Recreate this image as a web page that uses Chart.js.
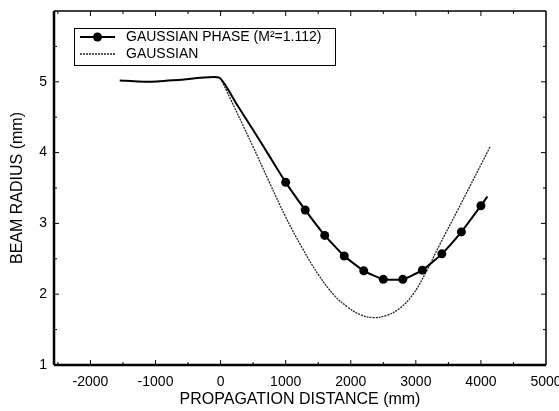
<!DOCTYPE html>
<html>
<head>
<meta charset="utf-8">
<script src="https://cdn.jsdelivr.net/npm/chart.js@4.4.0/dist/chart.umd.min.js"></script>
<style>
  html, body { margin: 0; padding: 0; background: #fff; }
  canvas { display: block; }
</style>
</head>
<body>
<canvas id="beam" width="559" height="411"></canvas>
<script>
// Gaussian phase curve (M^2 = 1.112)
const phaseX = [-1550, -1100, -600, -20, 250, 500, 750, 1000, 1300, 1600, 1900, 2200, 2500, 2800, 3100, 3400, 3700, 4000, 4100];
const phaseY = [5.02, 5.00, 5.03, 5.06, 4.68, 4.32, 3.95, 3.58, 3.19, 2.83, 2.54, 2.33, 2.21, 2.21, 2.34, 2.57, 2.88, 3.25, 3.38];
// points that carry a dot marker
const markerX = [1000, 1300, 1600, 1900, 2200, 2500, 2800, 3100, 3400, 3700, 4000];
// ideal gaussian beam
const gaussX = [0, 500, 750, 1000, 1250, 1500, 1750, 1950, 2150, 2350, 2550, 2750, 2950, 3150, 3350, 3650, 4140];
const gaussY = [5.05, 4.08, 3.58, 3.09, 2.66, 2.28, 1.98, 1.82, 1.71, 1.67, 1.70, 1.80, 1.99, 2.30, 2.67, 3.20, 4.08];
// axis ticks
const xTicks = [-2000, -1000, 0, 1000, 2000, 3000, 4000, 5000];
const yTicks = [1, 2, 3, 4, 5];

const FONT = '"Liberation Sans", Arial, sans-serif';

// box, inward ticks and the legend
const framePlugin = {
  id: 'frame',
  afterDraw(chart) {
    const { ctx, chartArea: a, scales: { x, y } } = chart;
    ctx.save();
    ctx.strokeStyle = '#000';
    const seg = (x1, y1, x2, y2) => { ctx.beginPath(); ctx.moveTo(x1, y1); ctx.lineTo(x2, y2); ctx.stroke(); };

    ctx.lineWidth = 1.5;
    seg(a.left, a.top, a.right, a.top);
    seg(a.right, a.top, a.right, a.bottom);
    ctx.lineWidth = 2.5;
    seg(a.left, a.bottom, a.right, a.bottom);
    seg(a.left, a.top, a.left, a.bottom);

    ctx.lineWidth = 1;
    for (let v = -2500; v <= 5000; v += 500) {
      const px = x.getPixelForValue(v);
      if (px <= a.left + 1 || px >= a.right - 1) continue;
      const len = v % 1000 === 0 ? 5 : 3;
      seg(px, a.bottom, px, a.bottom - len);
      seg(px, a.top, px, a.top + len);
    }
    for (let v = 1.5; v < 6; v += 0.5) {
      const py = y.getPixelForValue(v);
      const len = v % 1 === 0 ? 5 : 3;
      seg(a.left, py, a.left + len, py);
      seg(a.right, py, a.right - len, py);
    }

    // legend
    ctx.lineWidth = 1;
    ctx.strokeRect(74.5, 28.5, 261, 37);
    ctx.lineWidth = 2;
    seg(80, 37, 115, 37);
    ctx.fillStyle = '#000';
    ctx.beginPath(); ctx.arc(97.5, 37, 4.5, 0, Math.PI * 2); ctx.fill();
    ctx.lineWidth = 1.3;
    ctx.strokeStyle = '#222';
    ctx.setLineDash([2, 1]);
    seg(80, 54, 115, 54);
    ctx.setLineDash([]);
    ctx.font = '14px ' + FONT;
    ctx.textBaseline = 'middle';
    ctx.fillText('GAUSSIAN PHASE (M²=1.112)', 126, 37);
    ctx.fillText('GAUSSIAN', 126, 54);
    ctx.restore();
  }
};

new Chart(document.getElementById('beam'), {
  type: 'scatter',
  plugins: [framePlugin],
  data: {
    datasets: [
      {
        label: 'GAUSSIAN PHASE (M²=1.112)',
        data: phaseX.map((v, i) => ({ x: v, y: phaseY[i] })),
        showLine: true,
        borderColor: '#000',
        backgroundColor: '#000',
        borderWidth: 2,
        tension: 0.15,
        pointRadius: phaseX.map((v) => (markerX.includes(v) ? 4.5 : 0)),
        pointBorderWidth: 0,
      },
      {
        label: 'GAUSSIAN',
        data: gaussX.map((v, i) => ({ x: v, y: gaussY[i] })),
        showLine: true,
        borderColor: '#222',
        borderWidth: 1.3,
        borderDash: [2, 1],
        tension: 0.4,
        pointRadius: 0,
      },
    ],
  },
  options: {
    responsive: false,
    animation: false,
    devicePixelRatio: 1,
    layout: { padding: { top: 11, right: 13, left: 0, bottom: 0 } },
    plugins: { legend: { display: false }, tooltip: { enabled: false } },
    scales: {
      x: {
        type: 'linear',
        min: -2560,
        max: 5000,
        afterBuildTicks: (s) => { s.ticks = xTicks.map((v) => ({ value: v })); },
        afterFit: (s) => { s.height = 46; s.paddingLeft = 0; s.paddingRight = 0; },
        grid: { display: false, drawTicks: false },
        border: { display: false },
        ticks: { color: '#000', font: { size: 14, family: FONT }, padding: 9, maxRotation: 0, autoSkip: false, callback: (v) => String(v) },
        title: { display: true, text: 'PROPAGATION DISTANCE (mm)', color: '#000', font: { size: 16, family: FONT }, padding: { top: 0, bottom: 2 } },
      },
      y: {
        min: 1,
        max: 6,
        afterBuildTicks: (s) => { s.ticks = yTicks.map((v) => ({ value: v })); },
        afterFit: (s) => { s.width = 54; s.paddingTop = 0; s.paddingBottom = 0; },
        grid: { display: false, drawTicks: false },
        border: { display: false },
        ticks: { color: '#000', font: { size: 14, family: FONT }, padding: 7, callback: (v) => String(v) },
        title: { display: true, text: 'BEAM RADIUS (mm)', color: '#000', font: { size: 16, family: FONT }, padding: { top: 8, bottom: 0 } },
      },
    },
  },
});
</script>
</body>
</html>
